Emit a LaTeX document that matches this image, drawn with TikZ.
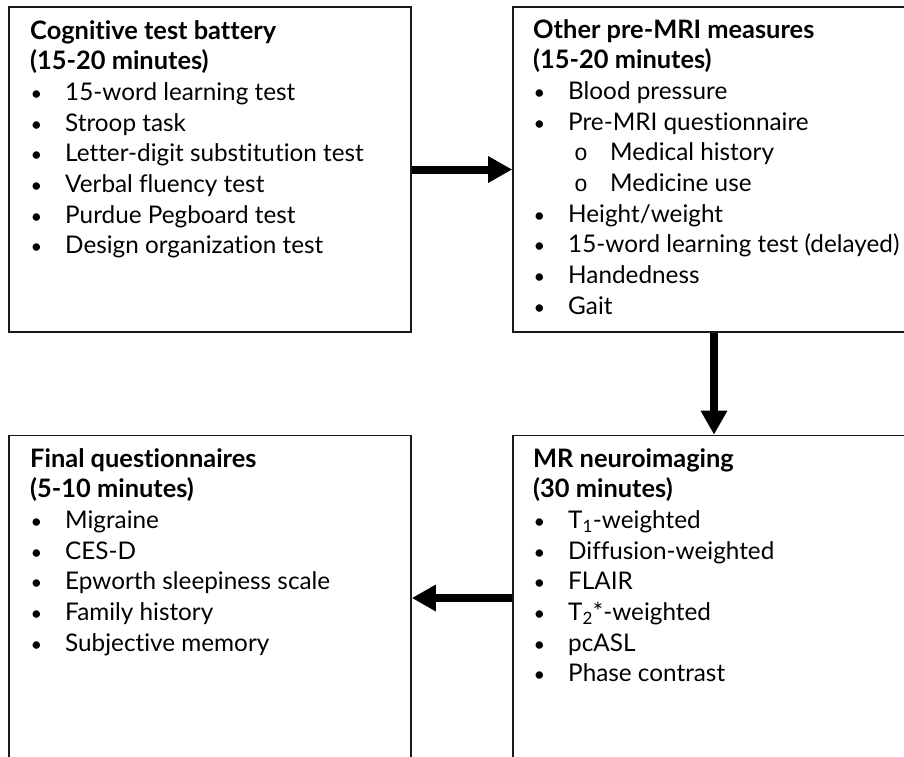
\documentclass[tikz,border=0pt]{standalone}
\usepackage{fontspec}
\setmainfont{Lato}[Ligatures=NoCommon]
\newfontfamily\subbulletfont{Liberation Mono}
\usetikzlibrary{arrows.meta}

% list helpers: bullet item and nested "o" item
\newcommand\bul[1]{\makebox[35pt][l]{\hspace{0.5pt}{\fontsize{20}{20}\selectfont\textbullet}}#1\par}
\newcommand\subbul[1]{\hspace{41pt}\makebox[36pt][l]{{\subbulletfont\fontsize{23}{23}\selectfont o}}#1\par}
\newcommand\heading[1]{{\fontsize{25.4}{30.7}\selectfont\textbf{#1}}\par}

\tikzset{
  stagebox/.style={draw=black!90, line width=1.6pt, rectangle,
    minimum width=402pt, minimum height=325pt, inner sep=0pt},
  flowarrow/.style={line width=8pt, line cap=butt,
    -{Triangle[length=24pt,width=25pt]}},
  listtext/.style={anchor=base west, inner sep=0pt,
    font=\fontsize{24.3}{30.7}\selectfont},
}

\begin{document}
\begin{tikzpicture}[x=1pt,y=-1pt]
  \useasboundingbox (0,0) rectangle (904,756);
  \clip (0,0) rectangle (904,756);

  % the four stages
  \node[stagebox] (cog) at (210,169.5) {};
  \node[stagebox] (pre) at (714,169.5) {};
  \node[stagebox] (mri) at (714,598) {};
  \node[stagebox] (fin) at (210,598) {};

  \node[listtext] (cogtext) at (30,39) {\parbox[t]{380pt}{\parindent=0pt
    \heading{Cognitive test battery}
    \heading{(15-20 minutes)}
    \bul{15-word learning test}
    \bul{Stroop task}
    \bul{Letter-digit substitution test}
    \bul{Verbal fluency test}
    \bul{Purdue Pegboard test}
    \bul{Design organization test}}};

  \node[listtext] (pretext) at (533,38) {\parbox[t]{380pt}{\parindent=0pt
    \heading{Other pre-MRI measures}
    \heading{(15-20 minutes)}
    \bul{Blood pressure}
    \bul{Pre-MRI questionnaire}
    \subbul{Medical history}
    \subbul{Medicine use}
    \bul{Height/weight}
    \bul{15-word learning test (delayed)}
    \bul{Handedness}
    \bul{Gait}}};

  \node[listtext] (mritext) at (533,467) {\parbox[t]{380pt}{\parindent=0pt
    \heading{MR neuroimaging}
    \heading{(30 minutes)}
    \bul{T\textsubscript{1}-weighted}
    \bul{Diffusion-weighted}
    \bul{FLAIR}
    \bul{T\textsubscript{2}*-weighted}
    \bul{pcASL}
    \bul{Phase contrast}}};

  \node[listtext] (fintext) at (30,467) {\parbox[t]{380pt}{\parindent=0pt
    \heading{Final questionnaires}
    \heading{(5-10 minutes)}
    \bul{Migraine}
    \bul{CES-D}
    \bul{Epworth sleepiness scale}
    \bul{Family history}
    \bul{Subjective memory}}};

  % flow between stages
  \draw[flowarrow] (cog.east) -- (pre.west);
  \draw[flowarrow] (pre.south) -- (mri.north);
  \draw[flowarrow] (mri.west) -- (fin.east);
\end{tikzpicture}
\end{document}
